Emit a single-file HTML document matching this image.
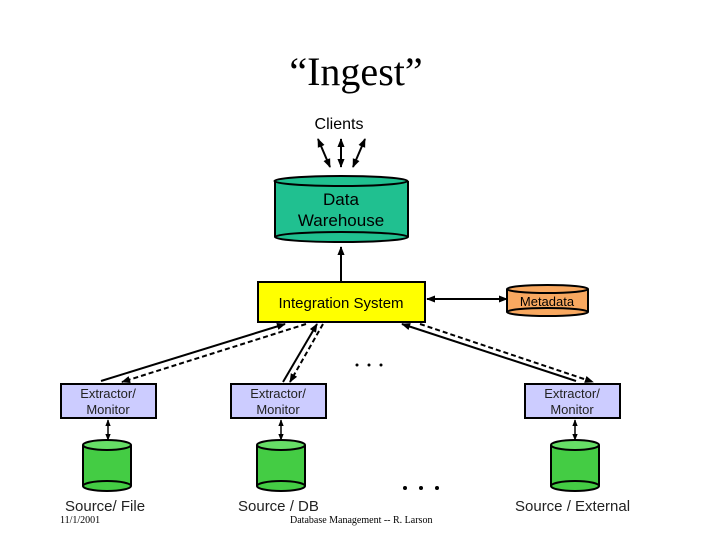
<!DOCTYPE html>
<html><head><style>
html,body{margin:0;padding:0;background:#fff;}
svg{display:block;}
</style></head><body>
<svg width="720" height="540" viewBox="0 0 720 540" xmlns="http://www.w3.org/2000/svg">
<defs>
<marker id="a" viewBox="0 0 10 10" refX="9" refY="5" markerWidth="4.5" markerHeight="4.5" orient="auto-start-reverse"><path d="M0,1 L10,5 L0,9 z" fill="#000"/></marker>
</defs>
<text x="356" y="85" font-family="Liberation Serif, serif" font-size="40" text-anchor="middle">“Ingest”</text>
<text x="339" y="129" font-family="Liberation Sans, sans-serif" font-size="16" text-anchor="middle">Clients</text>
<g stroke="#000" stroke-width="2" marker-start="url(#a)" marker-end="url(#a)">
<line x1="318" y1="139" x2="330" y2="167"/>
<line x1="341" y1="139" x2="341" y2="167"/>
<line x1="365" y1="139" x2="353" y2="167"/>
</g>
<g stroke="#000" stroke-width="2">
<path d="M275,181 L275,237 A66,5 0 0 0 408,237 L408,181" fill="#20c090"/>
<ellipse cx="341" cy="181" rx="66.5" ry="5" fill="#20c090"/>
<path d="M275,237 A66,5 0 0 1 408,237" fill="none"/>
</g>
<text x="341" y="205" font-family="Liberation Sans, sans-serif" font-size="17" text-anchor="middle">Data</text>
<text x="341" y="226" font-family="Liberation Sans, sans-serif" font-size="17" text-anchor="middle">Warehouse</text>
<line x1="341" y1="281" x2="341" y2="247" stroke="#000" stroke-width="2" marker-end="url(#a)"/>
<rect x="258" y="282" width="167" height="40" fill="#ffff00" stroke="#000" stroke-width="2"/>
<text x="341" y="308" font-family="Liberation Sans, sans-serif" font-size="15" text-anchor="middle">Integration System</text>
<line x1="427" y1="299" x2="507" y2="299" stroke="#000" stroke-width="2" marker-start="url(#a)" marker-end="url(#a)"/>
<g stroke="#000" stroke-width="2">
<path d="M507,289 L507,312 A40.5,4 0 0 0 588,312 L588,289" fill="#f8a860"/>
<ellipse cx="547.5" cy="289" rx="40.5" ry="4" fill="#f8a860"/>
<path d="M507,312 A40.5,4 0 0 1 588,312" fill="none"/>
</g>
<text x="547" y="306" font-family="Liberation Sans, sans-serif" font-size="13" text-anchor="middle">Metadata</text>
<g stroke="#000" stroke-width="2" fill="none">
<line x1="101" y1="381" x2="285" y2="324" marker-end="url(#a)"/>
<line x1="306" y1="324" x2="122" y2="382" stroke-dasharray="5,3" marker-end="url(#a)"/>
<line x1="283" y1="382" x2="317" y2="324" marker-end="url(#a)"/>
<line x1="323" y1="324" x2="290" y2="382" stroke-dasharray="5,3" marker-end="url(#a)"/>
<line x1="576" y1="381" x2="402" y2="324" marker-end="url(#a)"/>
<line x1="420" y1="324" x2="593" y2="382" stroke-dasharray="5,3" marker-end="url(#a)"/>
</g>
<g fill="#000"><circle cx="357" cy="365" r="1.5"/><circle cx="369" cy="365" r="1.5"/><circle cx="381" cy="365" r="1.5"/>
<circle cx="405" cy="488" r="2"/><circle cx="421" cy="488" r="2"/><circle cx="437" cy="488" r="2"/></g>
<g fill="#ccccff" stroke="#000" stroke-width="2">
<rect x="61" y="384" width="95" height="34"/>
<rect x="231" y="384" width="95" height="34"/>
<rect x="525" y="384" width="95" height="34"/>
</g>
<g font-family="Liberation Sans, sans-serif" font-size="13" text-anchor="middle" fill="#222">
<text x="108" y="398">Extractor/</text><text x="108" y="414">Monitor</text>
<text x="278" y="398">Extractor/</text><text x="278" y="414">Monitor</text>
<text x="572" y="398">Extractor/</text><text x="572" y="414">Monitor</text>
</g>
<g stroke="#000" stroke-width="2">
<path d="M83,445 L83,486 A24,5 0 0 0 131,486 L131,445" fill="#44cc44"/>
<ellipse cx="107" cy="445" rx="24" ry="5" fill="#66dd66"/>
<path d="M83,486 A24,5 0 0 1 131,486" fill="none"/>
<path d="M257,445 L257,486 A24,5 0 0 0 305,486 L305,445" fill="#44cc44"/>
<ellipse cx="281" cy="445" rx="24" ry="5" fill="#66dd66"/>
<path d="M257,486 A24,5 0 0 1 305,486" fill="none"/>
<path d="M551,445 L551,486 A24,5 0 0 0 599,486 L599,445" fill="#44cc44"/>
<ellipse cx="575" cy="445" rx="24" ry="5" fill="#66dd66"/>
<path d="M551,486 A24,5 0 0 1 599,486" fill="none"/>
</g>
<g stroke="#000" stroke-width="1.5" marker-start="url(#a)" marker-end="url(#a)">
<line x1="108" y1="420" x2="108" y2="440"/>
<line x1="281" y1="420" x2="281" y2="440"/>
<line x1="575" y1="420" x2="575" y2="440"/>
</g>
<g font-family="Liberation Sans, sans-serif" font-size="15" fill="#222">
<text x="65" y="511">Source/ File</text>
<text x="238" y="511">Source / DB</text>
<text x="515" y="511">Source / External</text>
</g>
<g font-family="Liberation Serif, serif" font-size="10">
<text x="60" y="523">11/1/2001</text>
<text x="290" y="523">Database Management -- R. Larson</text>
</g>
</svg>
</body></html>
